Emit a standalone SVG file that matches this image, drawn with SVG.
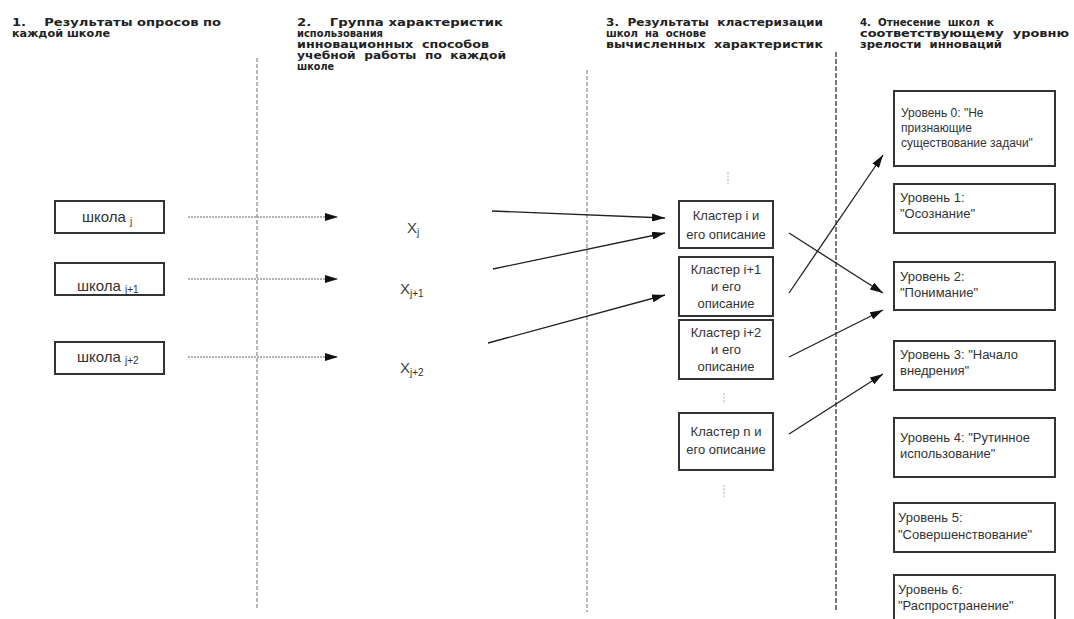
<svg xmlns="http://www.w3.org/2000/svg" width="1074" height="619" viewBox="0 0 1074 619">
<style>
.hd{font-family:"DejaVu Sans",sans-serif;font-weight:bold;font-size:11px;fill:#222}
.box{fill:#fff;stroke:#333;stroke-width:2}
.sch{font-family:"Liberation Sans",Arial,sans-serif;font-size:15px;fill:#333}
.sub{font-size:10px;fill:#333}
.xl{font-family:"Liberation Sans",Arial,sans-serif;font-size:15px;fill:#444}
.cl{font-family:"Liberation Sans",Arial,sans-serif;font-size:13px;fill:#333;text-anchor:middle}
.lv{font-family:"Liberation Sans",Arial,sans-serif;font-size:13px;fill:#333}
.lv0{font-family:"Liberation Sans",Arial,sans-serif;font-size:12px;fill:#333}
.col{stroke:#888;stroke-width:1.2;stroke-dasharray:4 2;fill:none}
.col3{stroke:#222;stroke-width:1.2;stroke-dasharray:5 2;fill:none}
.dot{stroke:#999;stroke-width:1.3;stroke-dasharray:2 1;fill:none}
.arr{stroke:#222;stroke-width:1.3;fill:none}
.mk{stroke:#aaa;stroke-width:1;stroke-dasharray:2 1.5;fill:none}
</style>
<defs>
<marker id="ah" markerUnits="userSpaceOnUse" markerWidth="14" markerHeight="8" refX="13" refY="4" orient="auto">
<path d="M0,0 L13,4 L0,8 z" fill="#111"/>
</marker>
</defs>
<rect width="1074" height="619" fill="#fff"/>

<g id="headers">
<text class="hd" x="12" y="26" textLength="209" lengthAdjust="spacingAndGlyphs">1.&#160;&#160;&#160; Результаты опросов по</text>
<text class="hd" x="12" y="37" textLength="98" lengthAdjust="spacingAndGlyphs">каждой школе</text>

<text class="hd" x="297" y="26" textLength="206" lengthAdjust="spacingAndGlyphs">2.&#160;&#160;&#160; Группа характеристик</text>
<text class="hd" x="297" y="37" textLength="86" lengthAdjust="spacingAndGlyphs">использования</text>
<text class="hd" x="297" y="48" textLength="192" lengthAdjust="spacingAndGlyphs">инновационных&#160; способов</text>
<text class="hd" x="297" y="59" textLength="209" lengthAdjust="spacingAndGlyphs">учебной&#160; работы&#160; по&#160; каждой</text>
<text class="hd" x="297" y="70" textLength="37" lengthAdjust="spacingAndGlyphs">школе</text>

<text class="hd" x="606" y="26" textLength="217" lengthAdjust="spacingAndGlyphs">3.&#160; Результаты&#160; кластеризации</text>
<text class="hd" x="606" y="37" textLength="100" lengthAdjust="spacingAndGlyphs">школ&#160; на&#160; основе</text>
<text class="hd" x="606" y="48" textLength="217" lengthAdjust="spacingAndGlyphs">вычисленных&#160; характеристик</text>

<text class="hd" x="860" y="26" textLength="134" lengthAdjust="spacingAndGlyphs">4.&#160; Отнесение&#160; школ&#160; к</text>
<text class="hd" x="860" y="37" textLength="209" lengthAdjust="spacingAndGlyphs">соответствующему&#160; уровню</text>
<text class="hd" x="860" y="48" textLength="142" lengthAdjust="spacingAndGlyphs">зрелости&#160; инноваций</text>
</g>

<g id="columns">
<line class="col" x1="257" y1="58" x2="257" y2="610"/>
<line class="col" x1="587" y1="70" x2="587" y2="612"/>
<line class="col3" x1="836" y1="52" x2="836" y2="612"/>
</g>

<g id="school-j">
<rect class="box" x="55" y="201" width="109" height="32"/>
<text class="sch" x="82" y="222">школа <tspan class="sub" dy="3">j</tspan></text>
</g>
<g id="school-j1">
<rect class="box" x="55" y="263" width="109" height="32"/>
<text class="sch" x="77" y="291">школа <tspan class="sub" dy="2">j+1</tspan></text>
</g>
<g id="school-j2">
<rect class="box" x="55" y="342" width="109" height="32"/>
<text class="sch" x="77" y="362">школа <tspan class="sub" dy="2">j+2</tspan></text>
</g>

<g id="x-j"><text class="xl" x="407" y="233">X<tspan class="sub" dy="3">j</tspan></text></g>
<g id="x-j1"><text class="xl" x="400" y="294">X<tspan class="sub" dy="3">j+1</tspan></text></g>
<g id="x-j2"><text class="xl" x="400" y="373">X<tspan class="sub" dy="3">j+2</tspan></text></g>

<g id="cluster-i">
<rect class="box" x="679" y="201" width="94" height="47"/>
<text class="cl" x="726" y="220">Кластер i и</text>
<text class="cl" x="726" y="239">его описание</text>
</g>
<g id="cluster-i1">
<rect class="box" x="679" y="257" width="94" height="59"/>
<text class="cl" x="726" y="274">Кластер i+1</text>
<text class="cl" x="726" y="291">и его</text>
<text class="cl" x="726" y="308">описание</text>
</g>
<g id="cluster-i2">
<rect class="box" x="679" y="320" width="94" height="59"/>
<text class="cl" x="726" y="337">Кластер i+2</text>
<text class="cl" x="726" y="354">и его</text>
<text class="cl" x="726" y="371">описание</text>
</g>
<g id="cluster-n">
<rect class="box" x="679" y="413" width="94" height="57"/>
<text class="cl" x="726" y="436">Кластер n и</text>
<text class="cl" x="726" y="454">его описание</text>
</g>

<g id="level-0">
<rect class="box" x="894" y="91" width="161" height="75"/>
<text class="lv0" x="901" y="117">Уровень 0: "Не</text>
<text class="lv0" x="901" y="132">признающие</text>
<text class="lv0" x="901" y="147">существование задачи"</text>
</g>
<g id="level-1">
<rect class="box" x="894" y="184" width="161" height="49"/>
<text class="lv" x="900" y="202">Уровень 1:</text>
<text class="lv" x="900" y="218">"Осознание"</text>
</g>
<g id="level-2">
<rect class="box" x="894" y="262" width="161" height="48"/>
<text class="lv" x="900" y="281">Уровень 2:</text>
<text class="lv" x="900" y="297">"Понимание"</text>
</g>
<g id="level-3">
<rect class="box" x="894" y="341" width="161" height="49"/>
<text class="lv" x="900" y="359">Уровень 3: "Начало</text>
<text class="lv" x="900" y="375">внедрения"</text>
</g>
<g id="level-4">
<rect class="box" x="894" y="418" width="161" height="59"/>
<text class="lv" x="900" y="442">Уровень 4: "Рутинное</text>
<text class="lv" x="900" y="458">использование"</text>
</g>
<g id="level-5">
<rect class="box" x="894" y="503" width="161" height="49"/>
<text class="lv" x="898" y="522">Уровень 5:</text>
<text class="lv" x="898" y="539">"Совершенствование"</text>
</g>
<g id="level-6">
<rect class="box" x="894" y="575" width="161" height="60"/>
<text class="lv" x="898" y="594">Уровень 6:</text>
<text class="lv" x="898" y="610">"Распространение"</text>
</g>

<g id="connectors">
<line class="dot" x1="188" y1="217" x2="338" y2="217" marker-end="url(#ah)"/>
<line class="dot" x1="188" y1="279" x2="338" y2="279" marker-end="url(#ah)"/>
<line class="dot" x1="188" y1="357" x2="338" y2="357" marker-end="url(#ah)"/>
<line class="arr" x1="492" y1="211" x2="665" y2="218" marker-end="url(#ah)"/>
<line class="arr" x1="493" y1="269" x2="665" y2="233" marker-end="url(#ah)"/>
<line class="arr" x1="488" y1="343" x2="665" y2="295" marker-end="url(#ah)"/>
<line class="arr" x1="789" y1="293" x2="883" y2="155" marker-end="url(#ah)"/>
<line class="arr" x1="789" y1="233" x2="883" y2="293" marker-end="url(#ah)"/>
<line class="arr" x1="789" y1="357" x2="883" y2="310" marker-end="url(#ah)"/>
<line class="arr" x1="789" y1="434" x2="883" y2="374" marker-end="url(#ah)"/>
<line class="mk" x1="728" y1="172" x2="728" y2="184"/>
<line class="mk" x1="724" y1="393" x2="724" y2="404"/>
<line class="mk" x1="724" y1="485" x2="724" y2="497"/>
</g>
</svg>
